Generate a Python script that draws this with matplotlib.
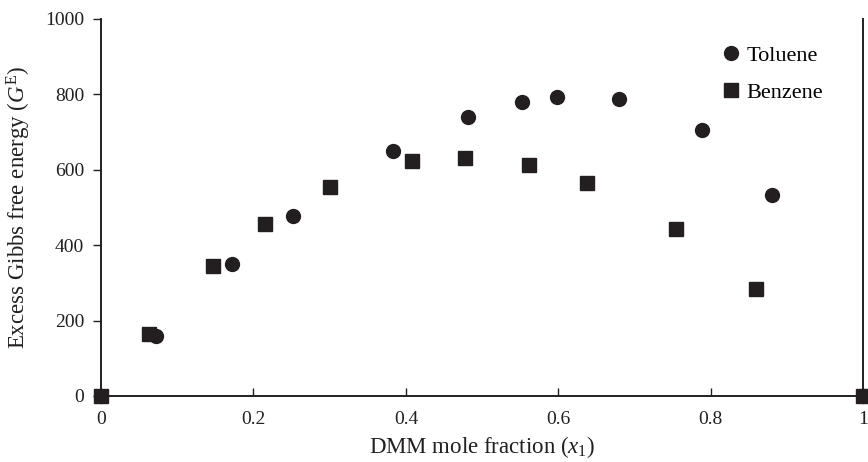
import matplotlib
matplotlib.use("Agg")
import matplotlib.pyplot as plt

plt.rcParams['font.family'] = ['Liberation Serif', 'DejaVu Serif']
plt.rcParams['mathtext.fontset'] = 'custom'
plt.rcParams['mathtext.rm'] = 'Liberation Serif'
plt.rcParams['mathtext.it'] = 'Liberation Serif:italic'

# DMM mole fraction vs excess Gibbs free energy
toluene_x = [0.0, 0.072, 0.172, 0.252, 0.383, 0.482, 0.552, 0.598, 0.680, 0.788, 0.880, 1.0]
toluene_y = [0, 160, 350, 478, 650, 740, 780, 793, 787, 705, 532, 0]
benzene_x = [0.0, 0.063, 0.147, 0.215, 0.300, 0.408, 0.478, 0.562, 0.638, 0.755, 0.860, 1.0]
benzene_y = [0, 165, 345, 455, 555, 622, 632, 612, 565, 443, 283, 0]

xticks = [0, 0.2, 0.4, 0.6, 0.8, 1]
xticklabels = ['0', '0.2', '0.4', '0.6', '0.8', '1']
yticks = [0, 200, 400, 600, 800, 1000]

col = '#231f20'

fig = plt.figure(figsize=(8.68, 4.62), dpi=100)
ax = fig.add_axes([0.1164, 0.143, 0.878, 0.816])

ax.plot(toluene_x, toluene_y, 'o', color=col, ms=10, label='Toluene', clip_on=False, zorder=3)
ax.plot(benzene_x, benzene_y, 's', color=col, ms=9.5, label='Benzene', clip_on=False, zorder=4)

ax.set_xlim(0, 1)
ax.set_ylim(0, 1000)
ax.set_xticks(xticks)
ax.set_xticklabels(xticklabels)
ax.set_yticks(yticks)

ax.spines['top'].set_visible(False)
for s in ['left', 'right', 'bottom']:
    ax.spines[s].set_linewidth(1.4)
    ax.spines[s].set_color(col)

ax.tick_params(axis='y', direction='out', length=6, width=1, labelsize=14, colors=col, pad=6)
ax.tick_params(axis='x', direction='in', length=6, width=1, labelsize=14, colors=col, pad=11)

ax.set_xlabel('DMM mole fraction ($x_1$)', fontsize=16.5, color=col, labelpad=4)
ax.set_ylabel('Excess Gibbs free energy ($G^{\\mathrm{E}}$)', fontsize=16.5, color=col, labelpad=9)

ax.legend(loc='upper right', bbox_to_anchor=(0.965, 0.965), frameon=False, fontsize=16,
          handlelength=0.8, handletextpad=0.3, labelspacing=0.75, borderaxespad=0.2)

fig.savefig('out.png', dpi=100)
